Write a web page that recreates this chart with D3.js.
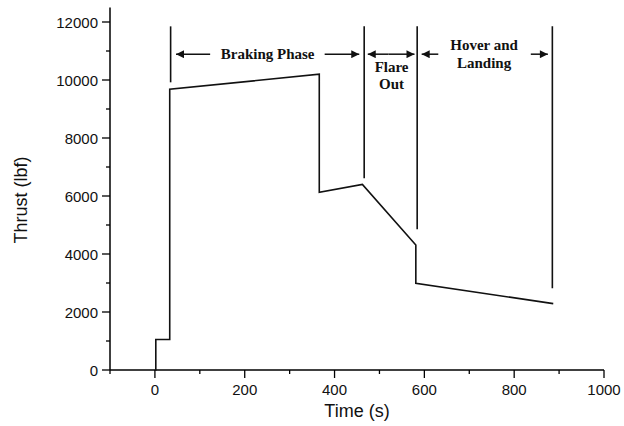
<!DOCTYPE html>
<html><head><meta charset="utf-8">
<script src="https://cdn.jsdelivr.net/npm/d3@7/dist/d3.min.js"></script>
<style>body{margin:0;background:#fff}svg{display:block}</style>
</head><body>
<svg id="c" width="624" height="426"></svg>
<script>
// Data
const timeS     = [0, 2, 2, 33, 33, 366, 366, 462, 581, 581, 887];
const thrustLbf = [0, 0, 1050, 1050, 9680, 10200, 6130, 6400, 4310, 2990, 2290];
const xTicks = [0, 200, 400, 600, 800, 1000];
const yTicks = [0, 2000, 4000, 6000, 8000, 10000, 12000];
const phaseTimes = [35, 466, 584, 885];
const phaseBottom = [9920, 6610, 4850, 2820];
const phaseTop = 11850;
const arrowLevel = 10890;
// arrows: [from t, to t] head at "to"
const arrowFrom = [123, 378, 520, 520, 631, 837];
const arrowTo   = [47, 455, 474, 578, 594, 875];
const phaseLabels = [["Braking Phase"], ["Flare", "Out"], ["Hover and", "Landing"]];
const phaseLabelT = [251, 527, 733];

const svg = d3.select("#c");
const x = d3.scaleLinear().domain([-100, 1000]).range([110, 604]);
const y = d3.scaleLinear().domain([0, 12500]).range([370, 7.5]);
const sans = "Liberation Sans, Arial, sans-serif";

// axes
const xAxis = svg.append("g").attr("transform", "translate(0,370)");
xAxis.append("line").attr("x1", x(-100)).attr("x2", x(1000)).attr("stroke", "#000").attr("stroke-width", 1.5);
const xMinor = d3.range(-100, 1001, 100).filter(v => !xTicks.includes(v));
xAxis.selectAll(".xm").data(xMinor).join("line").attr("x1", d => x(d)).attr("x2", d => x(d)).attr("y1", 0).attr("y2", 4).attr("stroke", "#000").attr("stroke-width", 1.3);
xAxis.selectAll(".xM").data(xTicks).join("line").attr("x1", d => x(d)).attr("x2", d => x(d)).attr("y1", 0).attr("y2", 8).attr("stroke", "#000").attr("stroke-width", 1.3);
xAxis.selectAll(".xl").data(xTicks).join("text").attr("x", d => x(d)).attr("y", 25).attr("text-anchor", "middle")
  .attr("font-family", sans).attr("font-size", 15).attr("fill", "#111").text(d => d);

const yAxis = svg.append("g");
yAxis.append("line").attr("x1", 110).attr("x2", 110).attr("y1", y(0)).attr("y2", y(12500)).attr("stroke", "#000").attr("stroke-width", 1.5);
const yMinor = d3.range(1000, 12001, 2000);
yAxis.selectAll(".ym").data(yMinor).join("line").attr("x1", 106).attr("x2", 110).attr("y1", d => y(d)).attr("y2", d => y(d)).attr("stroke", "#000").attr("stroke-width", 1.3);
yAxis.selectAll(".yM").data(yTicks).join("line").attr("x1", 102).attr("x2", 110).attr("y1", d => y(d)).attr("y2", d => y(d)).attr("stroke", "#000").attr("stroke-width", 1.3);
yAxis.selectAll(".yl").data(yTicks).join("text").attr("x", 98).attr("y", d => y(d) + 5.5).attr("text-anchor", "end")
  .attr("font-family", sans).attr("font-size", 15).attr("fill", "#111").text(d => d);

svg.append("text").attr("x", 357).attr("y", 417).attr("text-anchor", "middle")
  .attr("font-family", sans).attr("font-size", 18).attr("fill", "#111").text("Time (s)");
svg.append("text").attr("transform", "translate(27,200) rotate(-90)").attr("text-anchor", "middle")
  .attr("font-family", sans).attr("font-size", 18).attr("fill", "#111").text("Thrust (lbf)");

// data line
const pts = timeS.map((t, i) => [t, thrustLbf[i]]);
svg.append("path").attr("d", d3.line().x(d => x(d[0])).y(d => y(d[1]))(pts))
  .attr("fill", "none").attr("stroke", "#111").attr("stroke-width", 1.6).attr("stroke-linejoin", "miter");

// phase markers
svg.selectAll(".pm").data(phaseTimes).join("line")
  .attr("x1", d => x(d)).attr("x2", d => x(d)).attr("y1", y(phaseTop)).attr("y2", (d, i) => y(phaseBottom[i]))
  .attr("stroke", "#111").attr("stroke-width", 1.6);

// arrows
const defs = svg.append("defs");
defs.append("marker").attr("id", "ah").attr("viewBox", "0 0 10 10").attr("refX", 10).attr("refY", 5)
  .attr("markerWidth", 9).attr("markerHeight", 8).attr("markerUnits", "userSpaceOnUse").attr("orient", "auto")
  .append("path").attr("d", "M0,0 L10,5 L0,10 Z").attr("fill", "#111");
svg.selectAll(".ar").data(arrowFrom).join("line")
  .attr("x1", d => x(d)).attr("x2", (d, i) => x(arrowTo[i])).attr("y1", y(arrowLevel)).attr("y2", y(arrowLevel))
  .attr("stroke", "#111").attr("stroke-width", 1.5).attr("marker-end", "url(#ah)");

// phase labels
const lblY0 = [58.5, 71.5, 50];
phaseLabels.forEach((lines, i) => {
  svg.append("text").attr("text-anchor", "middle")
    .attr("font-family", "Liberation Serif, Times New Roman, serif").attr("font-weight", "bold").attr("font-size", 15).attr("fill", "#111")
    .selectAll("tspan").data(lines).join("tspan")
    .attr("x", x(phaseLabelT[i])).attr("y", (d, j) => lblY0[i] + j * 17.7).text(d => d);
});
</script>
</body></html>
